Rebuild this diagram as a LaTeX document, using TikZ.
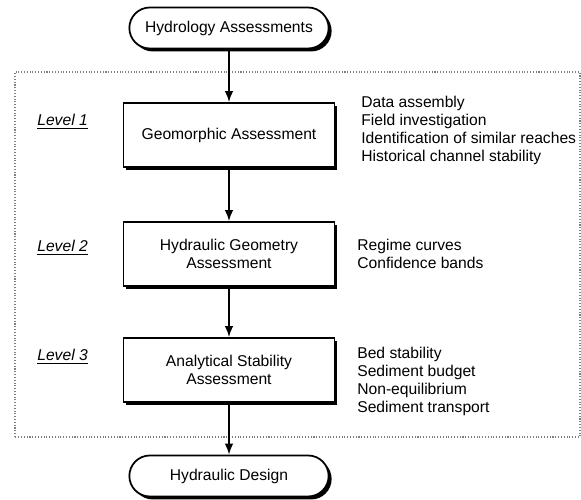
\documentclass[tikz,border=0pt]{standalone}
\usepackage{fontspec}
\setmainfont{Liberation Sans}
\usetikzlibrary{shapes.misc,shadows,arrows.meta,positioning}
\tikzset{
	boxshadow/.style={drop shadow={shadow xshift=0.06cm, shadow yshift=-0.06cm, fill=black, opacity=1}}
}

\begin{document}
\begin{tikzpicture}[->, >={Latex[length=2.2mm,width=1.7mm]}, font=\fontsize{8.9}{10.4}\selectfont]
	\tikzstyle{terminal} = [rounded rectangle, minimum width=4.22cm, minimum height=0.82cm, text centered, draw=black, line width=1pt, fill=white, boxshadow]
	\tikzstyle{process} = [rectangle, minimum width=4.22cm, minimum height=1.28cm, align=center, draw=black, line width=1pt, fill=white, boxshadow]
	\tikzstyle{level} = [anchor=west, inner sep=0pt, font=\fontsize{8.9}{10.4}\selectfont\itshape]
	\tikzstyle{tasks} = [anchor=west, inner sep=0pt, align=left]
	\useasboundingbox (0, 0) rectangle (11.62, 10);
	% dotted frame round the three levels
	\draw [-, densely dotted, gray, line width=0.6pt] (0.30, 1.26) rectangle (11.60, 8.56);
	\node (hydrology)[terminal] at (4.58, 9.44) {Hydrology Assessments};
	\node (geomorphic)[process] at (4.58, 7.30) {Geomorphic Assessment};
	\node (geometry)[process] at (4.58, 4.92) {Hydraulic Geometry\\Assessment};
	\node (stability)[process] at (4.58, 2.60) {Analytical Stability\\Assessment};
	\node (design)[terminal] at (4.58, 0.48) {Hydraulic Design};
	\node (level1)[level] at (0.74, 7.56) {\underline{Level 1}};
	\node (level2)[level] at (0.74, 5.04) {\underline{Level 2}};
	\node (level3)[level] at (0.74, 2.86) {\underline{Level 3}};
	\node (tasks1)[tasks] at (7.22, 7.39) {Data assembly\\Field investigation\\Identification of similar reaches\\Historical channel stability};
	\node (tasks2)[tasks] at (7.14, 4.92) {Regime curves\\Confidence bands};
	\node (tasks3)[tasks] at (7.14, 2.37) {Bed stability\\Sediment budget\\Non-equilibrium\\Sediment transport};
	\draw [->, line width=0.9pt] (hydrology) -- (geomorphic);
	\draw [->, line width=0.9pt] (geomorphic) -- (geometry);
	\draw [->, line width=0.9pt] (geometry) -- (stability);
	\draw [->, line width=0.9pt] (stability) -- (design);
\end{tikzpicture}
\end{document}
